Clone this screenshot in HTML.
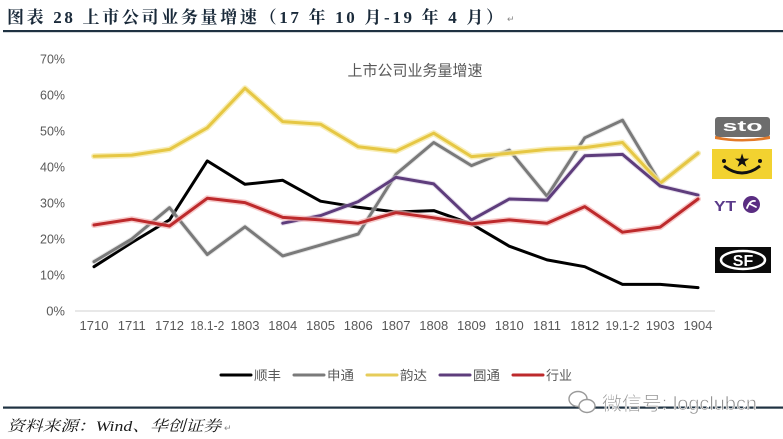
<!DOCTYPE html>
<html>
<head>
<meta charset="utf-8">
<style>
html,body{margin:0;padding:0;background:#fff;}
body{width:783px;height:439px;overflow:hidden;}
svg{display:block;}
</style>
</head>
<body>
<svg width="783" height="439" viewBox="0 0 783 439" xmlns="http://www.w3.org/2000/svg">
  <rect x="0" y="0" width="783" height="439" fill="#ffffff"/>

  <!-- Title -->
  <text x="7" y="23" font-family="'Liberation Serif','Noto Serif CJK SC',serif" font-weight="bold" font-size="17" fill="#1a2a3a" textLength="496" lengthAdjust="spacing">图表 28 上市公司业务量增速（17 年 10 月-19 年 4 月）</text>
  <text x="507" y="22" font-family="'Liberation Sans',sans-serif" font-size="9" fill="#888">↵</text>
  <rect x="3" y="30" width="780" height="2.2" fill="#1f3242"/>

  <!-- Chart subtitle -->
  <text x="415" y="75.5" text-anchor="middle" font-family="'Liberation Sans','Noto Sans CJK SC',sans-serif" font-size="15" fill="#595959" textLength="135" lengthAdjust="spacingAndGlyphs">上市公司业务量增速</text>

  <!-- Y labels -->
  <g font-family="'Liberation Sans',sans-serif" font-size="13" fill="#595959" text-anchor="end">
    <text x="65" y="315.5">0%</text>
    <text x="65" y="279.5" textLength="25" lengthAdjust="spacingAndGlyphs">10%</text>
    <text x="65" y="243.5" textLength="25" lengthAdjust="spacingAndGlyphs">20%</text>
    <text x="65" y="207.5" textLength="25" lengthAdjust="spacingAndGlyphs">30%</text>
    <text x="65" y="171.5" textLength="25" lengthAdjust="spacingAndGlyphs">40%</text>
    <text x="65" y="135.5" textLength="25" lengthAdjust="spacingAndGlyphs">50%</text>
    <text x="65" y="99.5" textLength="25" lengthAdjust="spacingAndGlyphs">60%</text>
    <text x="65" y="63.5" textLength="25" lengthAdjust="spacingAndGlyphs">70%</text>
  </g>

  <!-- X axis -->
  <line x1="75" y1="311" x2="715" y2="311" stroke="#d9d9d9" stroke-width="1.2"/>
  <g font-family="'Liberation Sans',sans-serif" font-size="13" fill="#595959" text-anchor="middle">
    <text x="94" y="330">1710</text>
    <text x="131.75" y="330">1711</text>
    <text x="169.5" y="330">1712</text>
    <text x="207.25" y="330" textLength="34" lengthAdjust="spacingAndGlyphs">18.1-2</text>
    <text x="245" y="330">1803</text>
    <text x="282.75" y="330">1804</text>
    <text x="320.5" y="330">1805</text>
    <text x="358.25" y="330">1806</text>
    <text x="396" y="330">1807</text>
    <text x="433.75" y="330">1808</text>
    <text x="471.5" y="330">1809</text>
    <text x="509.25" y="330">1810</text>
    <text x="547" y="330">1811</text>
    <text x="584.75" y="330">1812</text>
    <text x="622.5" y="330" textLength="34" lengthAdjust="spacingAndGlyphs">19.1-2</text>
    <text x="660.25" y="330">1903</text>
    <text x="698" y="330">1904</text>
  </g>

  <!-- Series -->
  <g fill="none" stroke-linejoin="round" stroke-linecap="round">
    <polyline stroke="#000" stroke-width="3" points="94,266.7 131.75,242.6 169.5,219.9 207.25,160.9 245,184.3 282.75,180.3 320.5,201.2 358.25,207.3 396,212 433.75,210.6 471.5,223.9 509.25,246.2 547,259.9 584.75,266.7 622.5,284.4 660.25,284.4 698,287.6"/>
    <polyline stroke="#d0d0d0" stroke-width="5" opacity="0.5" points="94,261.7 131.75,239 169.5,207.7 207.25,254.5 245,226.8 282.75,255.9 320.5,245.1 358.25,234 396,174.2 433.75,142.5 471.5,165.6 509.25,150.1 547,196.2 584.75,137.8 622.5,120.2 660.25,183.2 698,153"/>
    <polyline stroke="#7a7a7a" stroke-width="3" points="94,261.7 131.75,239 169.5,207.7 207.25,254.5 245,226.8 282.75,255.9 320.5,245.1 358.25,234 396,174.2 433.75,142.5 471.5,165.6 509.25,150.1 547,196.2 584.75,137.8 622.5,120.2 660.25,183.2 698,153"/>
    <polyline stroke="#f6eaa8" stroke-width="6" opacity="0.8" points="94,156.2 131.75,155.1 169.5,149.4 207.25,127.8 245,88.2 282.75,121.6 320.5,124.2 358.25,146.8 396,151.2 433.75,133.2 471.5,156.6 509.25,153.3 547,149.4 584.75,147.6 622.5,142.5 660.25,183.2 698,153.3"/>
    <polyline stroke="#e6c744" stroke-width="3" points="94,156.2 131.75,155.1 169.5,149.4 207.25,127.8 245,88.2 282.75,121.6 320.5,124.2 358.25,146.8 396,151.2 433.75,133.2 471.5,156.6 509.25,153.3 547,149.4 584.75,147.6 622.5,142.5 660.25,183.2 698,153.3"/>
    <polyline stroke="#cfc2dc" stroke-width="5" opacity="0.5" points="282.75,223.2 320.5,215.6 358.25,201.6 396,177.4 433.75,183.9 471.5,219.9 509.25,199 547,200.1 584.75,155.8 622.5,154.4 660.25,186.1 698,195.1"/>
    <polyline stroke="#5e3d7c" stroke-width="3" points="282.75,223.2 320.5,215.6 358.25,201.6 396,177.4 433.75,183.9 471.5,219.9 509.25,199 547,200.1 584.75,155.8 622.5,154.4 660.25,186.1 698,195.1"/>
    <polyline stroke="#f3b3b3" stroke-width="6" opacity="0.7" points="94,225 131.75,219.2 169.5,226 207.25,198.3 245,202.6 282.75,217.4 320.5,219.9 358.25,223.2 396,212.7 433.75,217.8 471.5,223.9 509.25,219.9 547,223.2 584.75,206.6 622.5,232.2 660.25,227.1 698,199"/>
    <polyline stroke="#bd2a2c" stroke-width="3" points="94,225 131.75,219.2 169.5,226 207.25,198.3 245,202.6 282.75,217.4 320.5,219.9 358.25,223.2 396,212.7 433.75,217.8 471.5,223.9 509.25,219.9 547,223.2 584.75,206.6 622.5,232.2 660.25,227.1 698,199"/>
  </g>

  <!-- Legend -->
  <g stroke-width="3" stroke-linecap="round">
    <line x1="221" y1="375" x2="251" y2="375" stroke="#000"/>
    <line x1="294" y1="375" x2="324" y2="375" stroke="#7a7a7a"/>
    <line x1="367" y1="375" x2="397" y2="375" stroke="#e6cc5a"/>
    <line x1="440" y1="375" x2="470" y2="375" stroke="#5e3d7c"/>
    <line x1="513" y1="375" x2="543" y2="375" stroke="#bd2a2c"/>
  </g>
  <g font-family="'Liberation Sans','Noto Sans CJK SC',sans-serif" font-size="13" fill="#595959">
    <text x="254" y="380" textLength="27" lengthAdjust="spacingAndGlyphs">顺丰</text>
    <text x="327" y="380" textLength="27" lengthAdjust="spacingAndGlyphs">申通</text>
    <text x="400" y="380" textLength="27" lengthAdjust="spacingAndGlyphs">韵达</text>
    <text x="473" y="380" textLength="27" lengthAdjust="spacingAndGlyphs">圆通</text>
    <text x="546" y="380" textLength="26" lengthAdjust="spacingAndGlyphs">行业</text>
  </g>

  <!-- Logos -->
  <rect x="715" y="117" width="55" height="20" rx="3" fill="#6d6d6d"/>
  <text x="742.5" y="131" text-anchor="middle" font-family="'Liberation Sans',sans-serif" font-weight="bold" font-size="15" fill="#fff" textLength="40" lengthAdjust="spacingAndGlyphs">sto</text>
  <path d="M715,136 Q742,142 770,136 L770,139 Q742,144 715,139 Z" fill="#e27a2a"/>

  <rect x="712" y="149" width="60" height="30" fill="#f2d230"/>
  <text x="742" y="166" text-anchor="middle" font-family="'Liberation Sans',sans-serif" font-weight="bold" font-size="16" fill="#111">★</text>
  <circle cx="724" cy="161" r="2" fill="#111"/>
  <circle cx="760" cy="161" r="2" fill="#111"/>
  <path d="M724,166 Q742,180 760,166" stroke="#111" stroke-width="3" fill="none"/>

  <text x="714" y="211" font-family="'Liberation Sans',sans-serif" font-weight="bold" font-size="15" fill="#5a3a8a" textLength="22" lengthAdjust="spacingAndGlyphs">YT</text>
  <circle cx="751.5" cy="204.5" r="8.5" fill="#5a2d82"/>
  <path d="M747,208 Q750,200 755,201 M750,204 L756,207" stroke="#fff" stroke-width="1.8" fill="none" stroke-linecap="round"/>

  <rect x="715" y="247" width="56" height="26" fill="#0a0a0a"/>
  <ellipse cx="743" cy="260" rx="22" ry="9" fill="none" stroke="#fff" stroke-width="2.5"/>
  <text x="743" y="266" text-anchor="middle" font-family="'Liberation Sans',sans-serif" font-weight="bold" font-size="16" fill="#fff">SF</text>

  <!-- Bottom rule -->
  <rect x="3" y="406.5" width="780" height="2.2" fill="#1f3242"/>

  <!-- Watermark -->
  <g stroke="#9a9a9a" stroke-width="1.4" fill="#fff">
    <ellipse cx="578" cy="399" rx="9" ry="7.5"/>
    <ellipse cx="587" cy="406" rx="8" ry="6.5"/>
  </g>
  <text x="602" y="410" font-family="'Liberation Sans','Noto Sans CJK SC',sans-serif" font-size="19" fill="#8e8e8e" stroke="#fff" stroke-width="0.6" textLength="155" lengthAdjust="spacingAndGlyphs">微信号: logclubcn</text>

  <!-- Source -->
  <text x="7" y="431" font-family="'Liberation Serif','Noto Serif CJK SC',serif" font-style="italic" font-size="15" fill="#1a1a1a" textLength="214" lengthAdjust="spacingAndGlyphs">资料来源：Wind、华创证券</text>
  <text x="224" y="431" font-family="'Liberation Sans',sans-serif" font-size="9" fill="#888">↵</text>
</svg>
</body>
</html>
